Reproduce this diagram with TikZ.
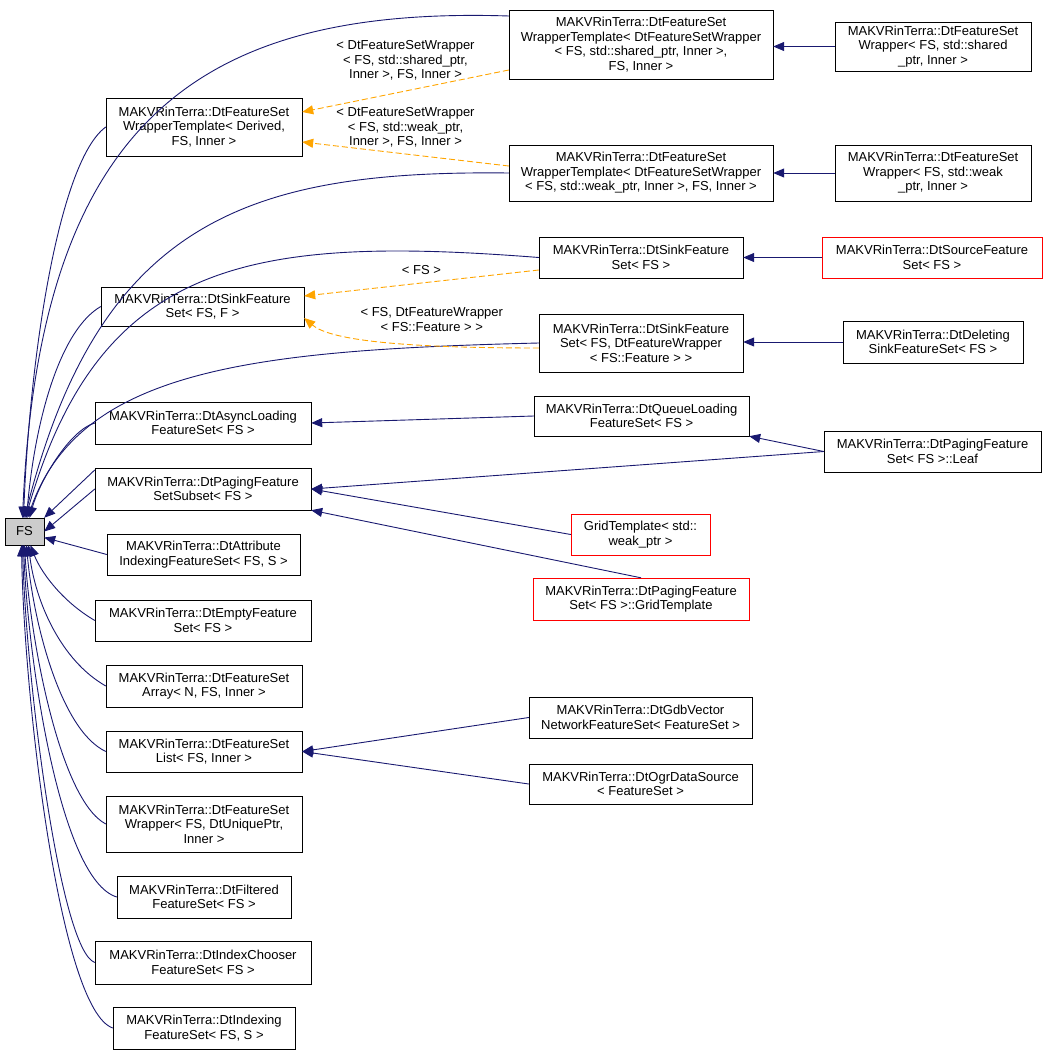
\documentclass[tikz,border=0pt]{standalone}
\usepackage{fontspec}
\setmainfont{Liberation Sans}
\usetikzlibrary{arrows.meta}
\definecolor{navy}{RGB}{25,25,112}
\definecolor{dorange}{RGB}{255,165,0}
\begin{document}
\begin{tikzpicture}[x=1pt,y=-1pt,
  box/.style={draw=black,fill=white,align=center,inner sep=1pt,font=\fontsize{13}{14.5}\selectfont},
  red/.style={box,draw=red},
  inh/.style={navy,-{Triangle[length=11pt,width=9pt]},line width=0.9pt},
  tmpl/.style={dorange,dash pattern=on 6pt off 3pt,-{Triangle[length=11pt,width=9pt]},line width=0.9pt},
  lab/.style={align=center,text=black,font=\fontsize{13}{14.5}\selectfont,inner sep=0pt}]
\useasboundingbox (0,0) rectangle (1048,1054);
\node[box,fill=lightgray!80,minimum width=39pt,minimum height=27pt] (FS) at (24.5,531.5) {FS};
\node[box,minimum width=196pt,minimum height=58pt] (A1) at (204,127) {MAKVRinTerra::DtFeatureSet\\WrapperTemplate< Derived,\\FS, Inner >};
\node[box,minimum width=264pt,minimum height=69pt] (B1) at (641,44.5) {MAKVRinTerra::DtFeatureSet\\WrapperTemplate< DtFeatureSetWrapper\\< FS, std::shared\_ptr, Inner >,\\FS, Inner >};
\node[box,minimum width=196pt,minimum height=49pt] (C1) at (933,46.5) {MAKVRinTerra::DtFeatureSet\\Wrapper< FS, std::shared\\\_ptr, Inner >};
\node[box,minimum width=264pt,minimum height=56pt] (B2) at (641,173) {MAKVRinTerra::DtFeatureSet\\WrapperTemplate< DtFeatureSetWrapper\\< FS, std::weak\_ptr, Inner >, FS, Inner >};
\node[box,minimum width=196pt,minimum height=56pt] (C2) at (933,173) {MAKVRinTerra::DtFeatureSet\\Wrapper< FS, std::weak\\\_ptr, Inner >};
\node[box,minimum width=203pt,minimum height=39pt] (A2) at (202.5,306.5) {MAKVRinTerra::DtSinkFeature\\Set< FS, F >};
\node[box,minimum width=204pt,minimum height=41pt] (B3) at (641,257.5) {MAKVRinTerra::DtSinkFeature\\Set< FS >};
\node[red,minimum width=220pt,minimum height=41pt] (C3) at (932,257.5) {MAKVRinTerra::DtSourceFeature\\Set< FS >};
\node[box,minimum width=204pt,minimum height=58pt] (B4) at (641,343) {MAKVRinTerra::DtSinkFeature\\Set< FS, DtFeatureWrapper\\< FS::Feature > >};
\node[box,minimum width=180pt,minimum height=42pt] (C4) at (933,342) {MAKVRinTerra::DtDeleting\\SinkFeatureSet< FS >};
\node[box,minimum width=216pt,minimum height=42pt] (A3) at (203,423) {MAKVRinTerra::DtAsyncLoading\\FeatureSet< FS >};
\node[box,minimum width=215pt,minimum height=40pt] (B5) at (641.5,416) {MAKVRinTerra::DtQueueLoading\\FeatureSet< FS >};
\node[box,minimum width=217pt,minimum height=41pt] (C5) at (932.5,451.5) {MAKVRinTerra::DtPagingFeature\\Set< FS >::Leaf};
\node[box,minimum width=216pt,minimum height=42pt] (A4) at (203,489) {MAKVRinTerra::DtPagingFeature\\SetSubset< FS >};
\node[red,minimum width=139pt,minimum height=41pt] (B6) at (640.5,534.5) {GridTemplate< std::\\weak\_ptr >};
\node[red,minimum width=216pt,minimum height=42pt] (B7) at (641,599) {MAKVRinTerra::DtPagingFeature\\Set< FS >::GridTemplate};
\node[box,minimum width=193pt,minimum height=41pt] (A5) at (203.5,554.5) {MAKVRinTerra::DtAttribute\\IndexingFeatureSet< FS, S >};
\node[box,minimum width=216pt,minimum height=41pt] (A6) at (203,620.5) {MAKVRinTerra::DtEmptyFeature\\Set< FS >};
\node[box,minimum width=196pt,minimum height=42pt] (A7) at (204,686) {MAKVRinTerra::DtFeatureSet\\Array< N, FS, Inner >};
\node[box,minimum width=196pt,minimum height=41pt] (A8) at (204,751.5) {MAKVRinTerra::DtFeatureSet\\List< FS, Inner >};
\node[box,minimum width=223pt,minimum height=41pt] (B8) at (640.5,717.5) {MAKVRinTerra::DtGdbVector\\NetworkFeatureSet< FeatureSet >};
\node[box,minimum width=223pt,minimum height=40pt] (B9) at (640.5,784) {MAKVRinTerra::DtOgrDataSource\\< FeatureSet >};
\node[box,minimum width=196pt,minimum height=56pt] (A9) at (204,824) {MAKVRinTerra::DtFeatureSet\\Wrapper< FS, DtUniquePtr,\\Inner >};
\node[box,minimum width=174pt,minimum height=42pt] (A10) at (204,897) {MAKVRinTerra::DtFiltered\\FeatureSet< FS >};
\node[box,minimum width=216pt,minimum height=43pt] (A11) at (203,962.5) {MAKVRinTerra::DtIndexChooser\\FeatureSet< FS >};
\node[box,minimum width=182pt,minimum height=42pt] (A12) at (204,1028) {MAKVRinTerra::DtIndexing\\FeatureSet< FS, S >};
% edges to FS
\draw[inh] (B1.west|-0,16) .. controls (200,6) and (40,120) .. ([xshift=-2pt]FS.north);
\draw[inh] (A1.west) .. controls (60,160) and (30,350) .. ([xshift=-1pt]FS.north);
\draw[inh] (B2.west) .. controls (250,170) and (100,220) .. ([xshift=0pt]FS.north);
\draw[inh] (B3.west) .. controls (250,235) and (100,260) .. ([xshift=1pt]FS.north);
\draw[inh] (A2.west) .. controls (60,330) and (35,420) .. ([xshift=2pt]FS.north);
\draw[inh] (B4.west) .. controls (250,350) and (80,370) .. ([xshift=3pt]FS.north);
\draw[inh] (A3.west) .. controls (70,430) and (40,480) .. ([xshift=5pt]FS.north);
\draw[inh] (A4.170) -- (FS.north east);
\draw[inh] (A4.west) -- (FS.east);
\draw[inh] (A5.west) -- ([yshift=-6pt]FS.east);
\draw[inh] (A6.west) .. controls (60,600) and (40,570) .. ([xshift=6pt]FS.south);
\draw[inh] (A7.west) .. controls (60,660) and (35,600) .. ([xshift=4pt]FS.south);
\draw[inh] (A8.west) .. controls (60,730) and (33,620) .. ([xshift=2pt]FS.south);
\draw[inh] (A9.west) .. controls (60,800) and (30,640) .. ([xshift=0pt]FS.south);
\draw[inh] (A10.west) .. controls (60,880) and (28,660) .. ([xshift=-1pt]FS.south);
\draw[inh] (A11.west) .. controls (60,950) and (26,680) .. ([xshift=-2pt]FS.south);
\draw[inh] (A12.west) .. controls (60,1010) and (24,700) .. ([xshift=-3pt]FS.south);
% other inheritance
\draw[inh] (C1.west) -- (B1.east|-C1.west);
\draw[inh] (C2) -- (B2);
\draw[inh] (C3) -- (B3);
\draw[inh] (C4.west) -- (B4.east|-C4.west);
\draw[inh] (B5.west) -- (A3.east);
\draw[inh] (C5.west) -- (B5.south east);
\draw[inh] (C5.west) -- (A4.east);
\draw[inh] (B6.west) -- (A4.east);
\draw[inh] (B7.north) -- (A4.south east);
\draw[inh] (B8.west) -- (A8.east);
\draw[inh] (B9.west) -- (A8.east);
% template instantiation
\draw[tmpl] (B1.west|-0,70) -- (A1.east|-0,112) node[lab,pos=0.5,above=10pt] {< DtFeatureSetWrapper\\< FS, std::shared\_ptr,\\ Inner >, FS, Inner >};
\draw[tmpl] (B2.west|-0,166) -- (A1.east|-0,142) node[lab,pos=0.5,above=6pt] {< DtFeatureSetWrapper\\< FS, std::weak\_ptr,\\ Inner >, FS, Inner >};
\draw[tmpl] (B3.west|-0,270) -- (A2.east|-0,296) node[lab,pos=0.5,above=8pt] {< FS >};
\draw[tmpl] (B4.west|-0,348) .. controls (400,348) and (330,340) .. (A2.east|-0,318) node[lab,pos=0.3,above=14pt] {< FS, DtFeatureWrapper\\< FS::Feature > >};
\end{tikzpicture}
\end{document}
